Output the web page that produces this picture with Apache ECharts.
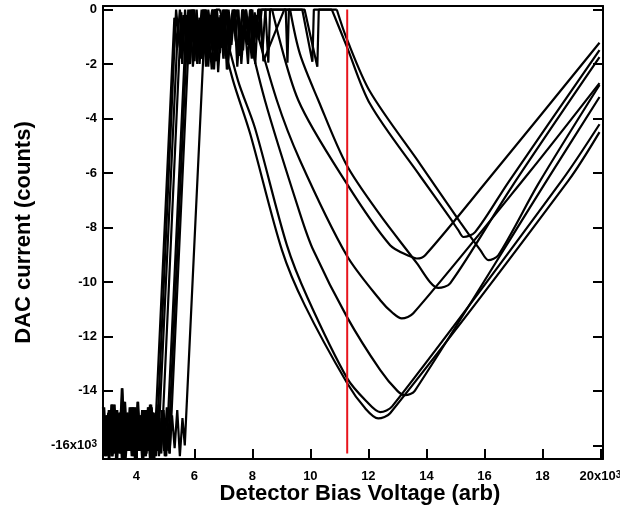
<!DOCTYPE html>
<html>
<head>
<meta charset="utf-8">
<script src="https://cdn.jsdelivr.net/npm/echarts@6/dist/echarts.min.js"></script>
<style>
  html, body { margin: 0; padding: 0; background: #fff; }
  #chart { width: 620px; height: 512px; }
</style>
</head>
<body>
<div id="chart"></div>
<script>
// 刻度 (x10^3)
const xTicks = [4, 6, 8, 10, 12, 14, 16, 18, 20];
const yTicks = [-16, -14, -12, -10, -8, -6, -4, -2, 0];

// 低电平噪声 (x10^3)
const lowGridA = [2.85, 2.94, 3.03, 3.12, 3.21, 3.30, 3.39, 3.48, 3.57, 3.66, 3.75, 3.84, 3.93, 4.02, 4.11, 4.20,
  4.29, 4.38, 4.47, 4.56, 4.65, 4.74, 4.83, 4.92, 5.01, 5.10, 5.19, 5.28, 5.37, 5.46, 5.55, 5.64];
const lowGridB = [2.89, 2.98, 3.07, 3.16, 3.25, 3.34, 3.43, 3.52, 3.61, 3.70, 3.79, 3.88, 3.97, 4.06, 4.15, 4.24,
  4.33, 4.42, 4.51, 4.60, 4.69, 4.78, 4.87, 4.96, 5.05, 5.14, 5.23, 5.32, 5.41, 5.50, 5.59, 5.68];
const lowGridC = [2.87, 2.96, 3.05, 3.14, 3.23, 3.32, 3.41, 3.50, 3.59, 3.68, 3.77, 3.86, 3.95, 4.04, 4.13, 4.22,
  4.31, 4.40, 4.49, 4.58, 4.67, 4.76, 4.85, 4.94, 5.03, 5.12, 5.21, 5.30, 5.39, 5.48, 5.57, 5.66];
const lowGridD = [2.91, 3.00, 3.09, 3.18, 3.27, 3.36, 3.45, 3.54, 3.63, 3.72, 3.81, 3.90, 3.99, 4.08, 4.17, 4.26,
  4.35, 4.44, 4.53, 4.62, 4.71, 4.80, 4.89, 4.98, 5.07, 5.16, 5.25, 5.34, 5.43, 5.52, 5.61, 5.70];
const lowNoise1 = [-14.6, -16.4, -14.8, -16.2, -14.5, -16.5, -15.0, -16.3, -14.4, -16.1, -14.9, -16.4, -14.6, -16.2, -15.1, -16.5,
  -14.7, -16.0, -14.5, -16.3, -14.8, -16.4, -15.0, -16.2, -14.6, -16.3, -14.9, -16.1, -14.7, -16.4, -15.0, -16.2];
const lowNoise2 = [-16.2, -14.9, -16.5, -14.5, -16.0, -14.7, -16.3, -13.9, -16.4, -14.8, -16.1, -14.6, -16.5, -14.4, -16.2, -14.9,
  -16.4, -14.6, -16.1, -14.8, -16.3, -14.5, -16.0, -14.7, -16.4, -14.6, -16.2, -15.0, -16.3, -14.8, -16.5, -14.9];
const lowNoise3 = [-15.2, -16.3, -14.7, -16.4, -15.4, -16.1, -14.8, -16.5, -15.1, -16.2, -14.6, -16.3, -15.3, -16.0, -14.9, -16.4,
  -15.2, -16.2, -14.6, -16.5, -15.0, -16.1, -14.7, -16.4, -15.3, -16.2, -14.8, -16.3, -15.1, -16.0, -14.9, -16.4];
const lowNoise4 = [-16.4, -15.3, -16.1, -14.8, -16.3, -15.5, -16.0, -14.6, -16.5, -15.2, -16.2, -14.9, -16.4, -15.4, -16.1, -14.7,
  -16.3, -15.1, -16.5, -14.9, -16.2, -15.6, -16.0, -14.8, -16.4, -15.2, -16.1, -14.7, -16.3, -15.0, -16.2, -15.5];

// 饱和区噪声 (x10^3)
const topGridA = [5.30, 5.40, 5.50, 5.60, 5.70, 5.80, 5.90, 6.00, 6.10, 6.20, 6.30, 6.40, 6.50, 6.60, 6.70, 6.80, 6.90, 7.00, 7.10,
  7.20, 7.30, 7.40, 7.50, 7.60, 7.70, 7.80, 7.90, 8.00, 8.10, 8.20, 8.30, 8.40, 8.50, 8.60, 8.70, 8.80, 8.90, 9.00];
const topGridB = [5.35, 5.45, 5.55, 5.65, 5.75, 5.85, 5.95, 6.05, 6.15, 6.25, 6.35, 6.45, 6.55, 6.65, 6.75, 6.85, 6.95, 7.05, 7.15,
  7.25, 7.35, 7.45, 7.55, 7.65, 7.75, 7.85, 7.95, 8.05, 8.15, 8.25, 8.35, 8.45, 8.55, 8.65, 8.75, 8.85, 8.95, 9.05];
const topGridC = [5.32, 5.42, 5.52, 5.62, 5.72, 5.82, 5.92, 6.02, 6.12, 6.22, 6.32, 6.42, 6.52, 6.62, 6.72, 6.82, 6.92, 7.02, 7.12,
  7.22, 7.32, 7.42, 7.52, 7.62, 7.72, 7.82, 7.92, 8.02, 8.12, 8.22, 8.32, 8.42, 8.52, 8.62, 8.72, 8.82, 8.92, 9.02];
const topGridD = [5.38, 5.48, 5.58, 5.68, 5.78, 5.88, 5.98, 6.08, 6.18, 6.28, 6.38, 6.48, 6.58, 6.68, 6.78, 6.88, 6.98, 7.08, 7.18,
  7.28, 7.38, 7.48, 7.58, 7.68, 7.78, 7.88, 7.98, 8.08, 8.18, 8.28, 8.38, 8.48, 8.58, 8.68, 8.78, 8.88, 8.98, 9.08];
const topNoise1 = [-0.2, -1.4, 0, -0.8, -1.9, -0.1, -1.2, 0, -2.0, -0.5, -1.6, 0, -0.9, -2.2, -0.2, -1.1, 0, -1.7, -0.4,
  -1.3, 0, -2.1, -0.6, -1.5, 0, -0.8, -1.8, -0.1, -1.0, 0, -1.9, -0.3, -0.7, 0, -1.4, 0, -0.5, 0];
const topNoise2 = [0, -0.9, -1.8, -0.3, -1.1, 0, -2.1, -0.6, -1.4, 0, -1.0, -1.9, -0.2, -1.5, 0, -2.3, -0.7, -1.2, 0,
  -1.6, -0.4, -0.9, 0, -2.0, -0.5, -1.3, 0, -1.7, -0.2, -1.1, 0, -0.6, -1.8, 0, -0.4, 0, -1.2, 0];
const topNoise3 = [-0.5, 0, -1.7, -0.2, -1.3, -2.0, 0, -1.0, -0.4, -1.8, 0, -1.2, -0.6, 0, -1.9, -0.3, -1.4, 0, -2.2,
  -0.8, 0, -1.1, -1.6, 0, -0.7, -2.0, 0, -1.3, -0.5, 0, -1.5, 0, -0.9, -0.2, 0, -1.6, 0, 0];
const topNoise4 = [-1.0, -0.1, -2.0, 0, -1.5, -0.7, 0, -1.9, -0.3, -1.2, 0, -2.1, -0.5, -0.9, 0, -1.6, -0.2, -1.8, 0,
  -1.0, -0.4, 0, -1.7, -0.6, 0, -1.2, -0.3, 0, -2.0, -0.1, 0, -1.0, 0, -0.4, -1.3, 0, 0, -0.8];

// 每条曲线的上升沿与噪声范围
const riseStart = [4.62, 4.68, 4.75, 4.86, 5.04, 5.10, 5.15, 5.67];
const riseLow = [-16.2, -16.4, -16.1, -16.3, -16.4, -16.2, -16.3, -16.0];
const riseTop = [5.31, 5.37, 5.44, 5.55, 5.73, 5.79, 5.84, 6.30];
const riseHigh = [-0.3, 0, -0.5, -0.1, -0.2, 0, -0.4, -1.9];
const noiseEnd = [6.65, 6.80, 7.60, 7.90, 8.50, 8.15, 8.40, 8.40];

// 饱和区末端的平台与尖峰
const flatE = [[8.70, 0], [9.15, 0], [9.21, -1.95], [9.26, 0]];
const flatF = [[8.20, 0], [8.45, 0], [8.55, -1.95], [8.61, 0]];
const flatG = [[9.10, 0], [9.72, 0], [10.07, -1.92], [10.12, 0]];
const flatH = [[9.10, 0], [9.80, 0], [10.24, -2.10], [10.29, 0]];

// 下降沿 -> 最低点 -> 末端
const tailA = [[6.71, 0], [7.33, -2.59], [7.92, -4.54], [9.02, -8.83], [9.81, -10.86], [11.27, -13.72], [11.89, -14.64],
  [12.34, -15.01], [12.75, -14.82], [18.91, -6.26], [19.97, -4.50]];
const tailB = [[6.88, 0], [7.50, -2.59], [8.09, -4.35], [9.19, -8.65], [9.91, -10.60], [11.27, -13.54], [11.93, -14.38],
  [12.41, -14.78], [12.82, -14.57], [18.68, -6.26], [19.97, -4.21]];
const tailC = [[7.67, 0], [8.43, -3.32], [9.64, -7.48], [10.10, -8.83], [11.27, -11.30], [12.41, -13.24], [13.00, -14.00],
  [13.27, -14.16], [13.60, -14.00], [18.16, -6.26], [19.97, -3.21]];
const tailD = [[7.95, 0], [8.84, -3.32], [9.64, -5.53], [11.25, -9.02], [12.41, -10.67], [12.85, -11.15], [13.15, -11.34],
  [13.55, -11.15], [17.53, -6.00], [19.97, -2.70]];
const tailE = [[9.30, 0], [9.64, -1.63], [10.27, -3.32], [11.25, -5.71], [12.41, -7.55], [13.67, -9.31], [14.13, -10.01],
  [14.41, -10.22], [14.82, -10.05], [16.95, -6.50], [19.97, -1.75]];
const tailF = [[8.68, 0], [9.58, -3.32], [11.25, -6.38], [12.75, -8.65], [13.44, -9.06], [13.67, -9.14], [13.96, -9.02],
  [16.20, -6.15], [19.97, -1.22]];
const tailG = [[10.91, 0], [11.25, -1.06], [12.06, -3.02], [13.79, -5.68], [15.17, -7.81], [15.86, -8.83], [16.14, -9.20],
  [16.48, -9.02], [17.86, -6.40], [19.97, -2.77]];
const tailH = [[10.74, 0], [11.25, -1.34], [12.06, -3.47], [13.79, -6.12], [14.82, -7.66], [15.10, -8.10], [15.28, -8.35],
  [15.68, -8.17], [16.82, -6.35], [19.97, -1.49]];

// 红色参考线
const redX = 11.27;
const redY = [0, -16.3];

const lowGrids = [lowGridA, lowGridB, lowGridC, lowGridD];
const lowLists = [lowNoise1, lowNoise2, lowNoise3, lowNoise4];
const topGrids = [topGridA, topGridB, topGridC, topGridD];
const topLists = [topNoise1, topNoise2, topNoise3, topNoise4];
const lowPick = [0, 1, 2, 3, 1, 2, 3, 0];
const lowGridPick = [0, 1, 2, 3, 2, 3, 0, 1];
const topPick = [0, 1, 2, 3, 2, 3, 0, 1];
const topGridPick = [0, 1, 2, 3, 1, 0, 3, 2];
const flats = [[], [], [], [], flatE, flatF, flatG, flatH];
const tails = [tailA, tailB, tailC, tailD, tailE, tailF, tailG, tailH];

// 噪声段: 低电平 + 上升沿 + 饱和区 + 平台, 接到下降沿起点
function buildNoise(i) {
    const pts = [];
    const lg = lowGrids[lowGridPick[i]], ll = lowLists[lowPick[i]];
    lg.forEach((x, k) => { if (x < riseStart[i]) pts.push([x, ll[k]]); });
    pts.push([riseStart[i], riseLow[i]]);
    pts.push([riseTop[i], riseHigh[i]]);
    const tg = topGrids[topGridPick[i]], tl = topLists[topPick[i]];
    tg.forEach((x, k) => { if (x > riseTop[i] && x < noiseEnd[i]) pts.push([x, tl[k]]); });
    return pts.concat(flats[i], [tails[i][0]]);
}

const font = 'Liberation Sans, Arial, sans-serif';
const labelRich = { s: { fontSize: 10, fontWeight: 'bold', fontFamily: font, verticalAlign: 'top', lineHeight: 10 } };
const lineBase = { type: 'line', showSymbol: false, symbol: 'none', silent: true };

const series = [];
tails.forEach((t, i) => {
    series.push(Object.assign({}, lineBase, {
        data: buildNoise(i), lineStyle: { color: '#000', width: 2.2 }
    }));
    series.push(Object.assign({}, lineBase, {
        data: t, smooth: 0.3, lineStyle: { color: '#000', width: 2.2 }
    }));
});
series.push(Object.assign({}, lineBase, {
    data: redY.map(y => [redX, y]),
    lineStyle: { color: '#e8141c', width: 2 }
}));

const chart = echarts.init(document.getElementById('chart'));
chart.setOption({
    animation: false,
    backgroundColor: '#fff',
    grid: { left: 103, right: 17, top: 6, bottom: 53, containLabel: false, outerBoundsMode: 'none' },
    xAxis: [{
        type: 'value', min: 2.85, max: 20.09,
        name: 'Detector Bias Voltage (arb)', nameLocation: 'middle', nameGap: 24, nameMoveOverlap: false,
        nameTextStyle: { fontSize: 22, fontWeight: 'bold', color: '#000', fontFamily: font, padding: [0, 0, 0, 14] },
        axisLine: { onZero: false, lineStyle: { color: '#000', width: 2 } },
        axisTick: { inside: true, length: 10, customValues: xTicks, lineStyle: { color: '#000', width: 2 } },
        axisLabel: {
            customValues: xTicks, margin: 11, color: '#000', fontSize: 13, fontWeight: 'bold', fontFamily: font,
            formatter: v => v === 20 ? '20x10{s|3}' : String(v), rich: labelRich
        },
        splitLine: { show: false }
    }, {
        type: 'value', min: 2.85, max: 20.09, position: 'top',
        axisLine: { onZero: false, lineStyle: { color: '#000', width: 2 } },
        axisTick: { show: false }, axisLabel: { show: false }, splitLine: { show: false }
    }],
    yAxis: [{
        type: 'value', min: -16.5, max: 0.13,
        name: 'DAC current (counts)', nameLocation: 'middle', nameGap: 68,
        nameTextStyle: { fontSize: 22, fontWeight: 'bold', color: '#000', fontFamily: font },
        axisLine: { onZero: false, lineStyle: { color: '#000', width: 2 } },
        axisTick: { inside: true, length: 10, customValues: yTicks, lineStyle: { color: '#000', width: 2 } },
        axisLabel: {
            customValues: yTicks, margin: 6, color: '#000', fontSize: 13, fontWeight: 'bold', fontFamily: font,
            formatter: v => v === -16 ? '-16x10{s|3}' : String(v), rich: labelRich
        },
        splitLine: { show: false }
    }, {
        type: 'value', min: -16.5, max: 0.13, position: 'right',
        axisLine: { onZero: false, lineStyle: { color: '#000', width: 2 } },
        axisTick: { inside: true, length: 10, customValues: yTicks, lineStyle: { color: '#000', width: 2 } },
        axisLabel: { show: false }, splitLine: { show: false }
    }],
    series: series
});
</script>
</body>
</html>
